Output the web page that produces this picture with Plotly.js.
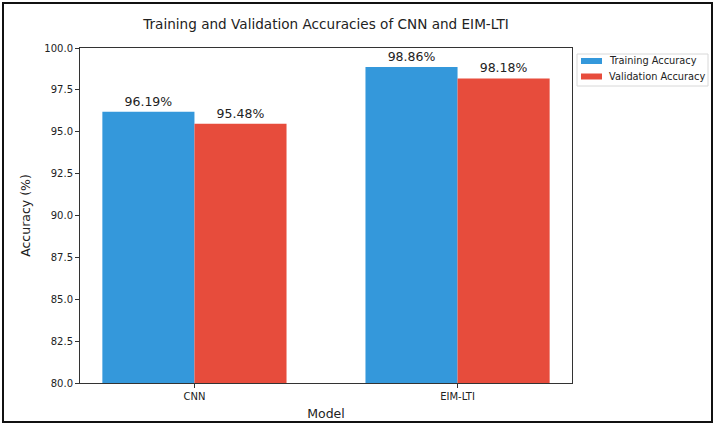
<!DOCTYPE html>
<html>
<head>
<meta charset="utf-8">
<script src="https://cdn.plot.ly/plotly-3.0.1.min.js"></script>
<style>
html,body{margin:0;padding:0;background:#fff;}
#wrap{position:relative;width:714px;height:425px;}
#chart{position:absolute;left:0;top:0;width:714px;height:425px;}
#frame{position:absolute;left:2px;top:2px;width:707px;height:417px;border:2px solid #111;pointer-events:none;}
</style>
</head>
<body>
<div id="wrap"><div id="chart"></div><div id="frame"></div></div>
<script>
const models = ["CNN", "EIM-LTI"];
const trainingAcc = [96.19, 98.86];
const validationAcc = [95.48, 98.18];
const seriesNames = ["Training Accuracy", "Validation Accuracy"];
const seriesColors = ["#3498db", "#e74c3c"];
const yTicks = [80, 82.5, 85, 87.5, 90, 92.5, 95, 97.5, 100];

const font = "DejaVu Sans, sans-serif";
const seriesValues = [trainingAcc, validationAcc];
const traces = seriesValues.map((vals, i) => ({
  type:"bar", name:seriesNames[i], x:models, y:vals,
  marker:{color:seriesColors[i]}, texttemplate:"%{y:.2f}%", textposition:"outside",
  textfont:{family:font, size:12.5, color:"#222"}, cliponaxis:false, hoverinfo:"none"
}));

// plot area in pixels: x 80..572, y 48..383
const L = 80, T = 48, PW = 492, PH = 335;
const px = x => (x - L) / PW;
const py = y => (T + PH - y) / PH;

// legend (drawn as shapes + annotations, matplotlib style)
const shapes = [{type:"rect", xref:"paper", yref:"paper", x0:px(577), x1:px(708), y0:py(86), y1:py(54),
  line:{color:"#d8d8d8", width:1}, fillcolor:"#fff", layer:"above"}];
const annotations = [];
seriesNames.forEach((name, i) => {
  const cy = 61 + i * 15.5;
  shapes.push({type:"rect", xref:"paper", yref:"paper", x0:px(581), x1:px(602), y0:py(cy + 3), y1:py(cy - 3),
    line:{width:0}, fillcolor:seriesColors[i], layer:"above"});
  annotations.push({xref:"paper", yref:"paper", x:px(607), y:py(cy), xanchor:"left", yanchor:"middle",
    text:name, showarrow:false, font:{family:font, size:9.8, color:"#222"}});
});

const layout = {
  width:714, height:425,
  margin:{l:L, r:714 - L - PW, t:T, b:425 - T - PH},
  paper_bgcolor:"#fff", plot_bgcolor:"#fff",
  font:{family:font, color:"#222"},
  barmode:"group", bargap:0.3, bargroupgap:0,
  showlegend:false,
  title:{text:"Training and Validation Accuracies of CNN and EIM-LTI", font:{family:font, size:13.6, color:"#222"},
    x:(L + PW/2)/714, xanchor:"center", y:1 - 24.5/425, yanchor:"middle"},
  xaxis:{type:"category", range:[-0.435, 1.435], showline:true, mirror:true, linecolor:"#333", linewidth:1,
    ticks:"outside", ticklen:4, tickcolor:"#333", tickfont:{family:font, size:10, color:"#222"},
    showgrid:false, zeroline:false,
    title:{text:"Model", font:{family:font, size:12.5, color:"#222"}, standoff:8}},
  yaxis:{range:[80, 100], tickvals:yTicks, ticktext:yTicks.map(v=>v.toFixed(1)),
    showline:true, mirror:true, linecolor:"#333", linewidth:1,
    ticks:"outside", ticklen:4, tickcolor:"#333", tickfont:{family:font, size:10, color:"#222"},
    showgrid:false, zeroline:false,
    title:{text:"Accuracy (%)", font:{family:font, size:12.5, color:"#222"}, standoff:10}},
  shapes:shapes,
  annotations:annotations
};
Plotly.newPlot("chart", traces, layout, {displayModeBar:false, staticPlot:true});
</script>
</body>
</html>
